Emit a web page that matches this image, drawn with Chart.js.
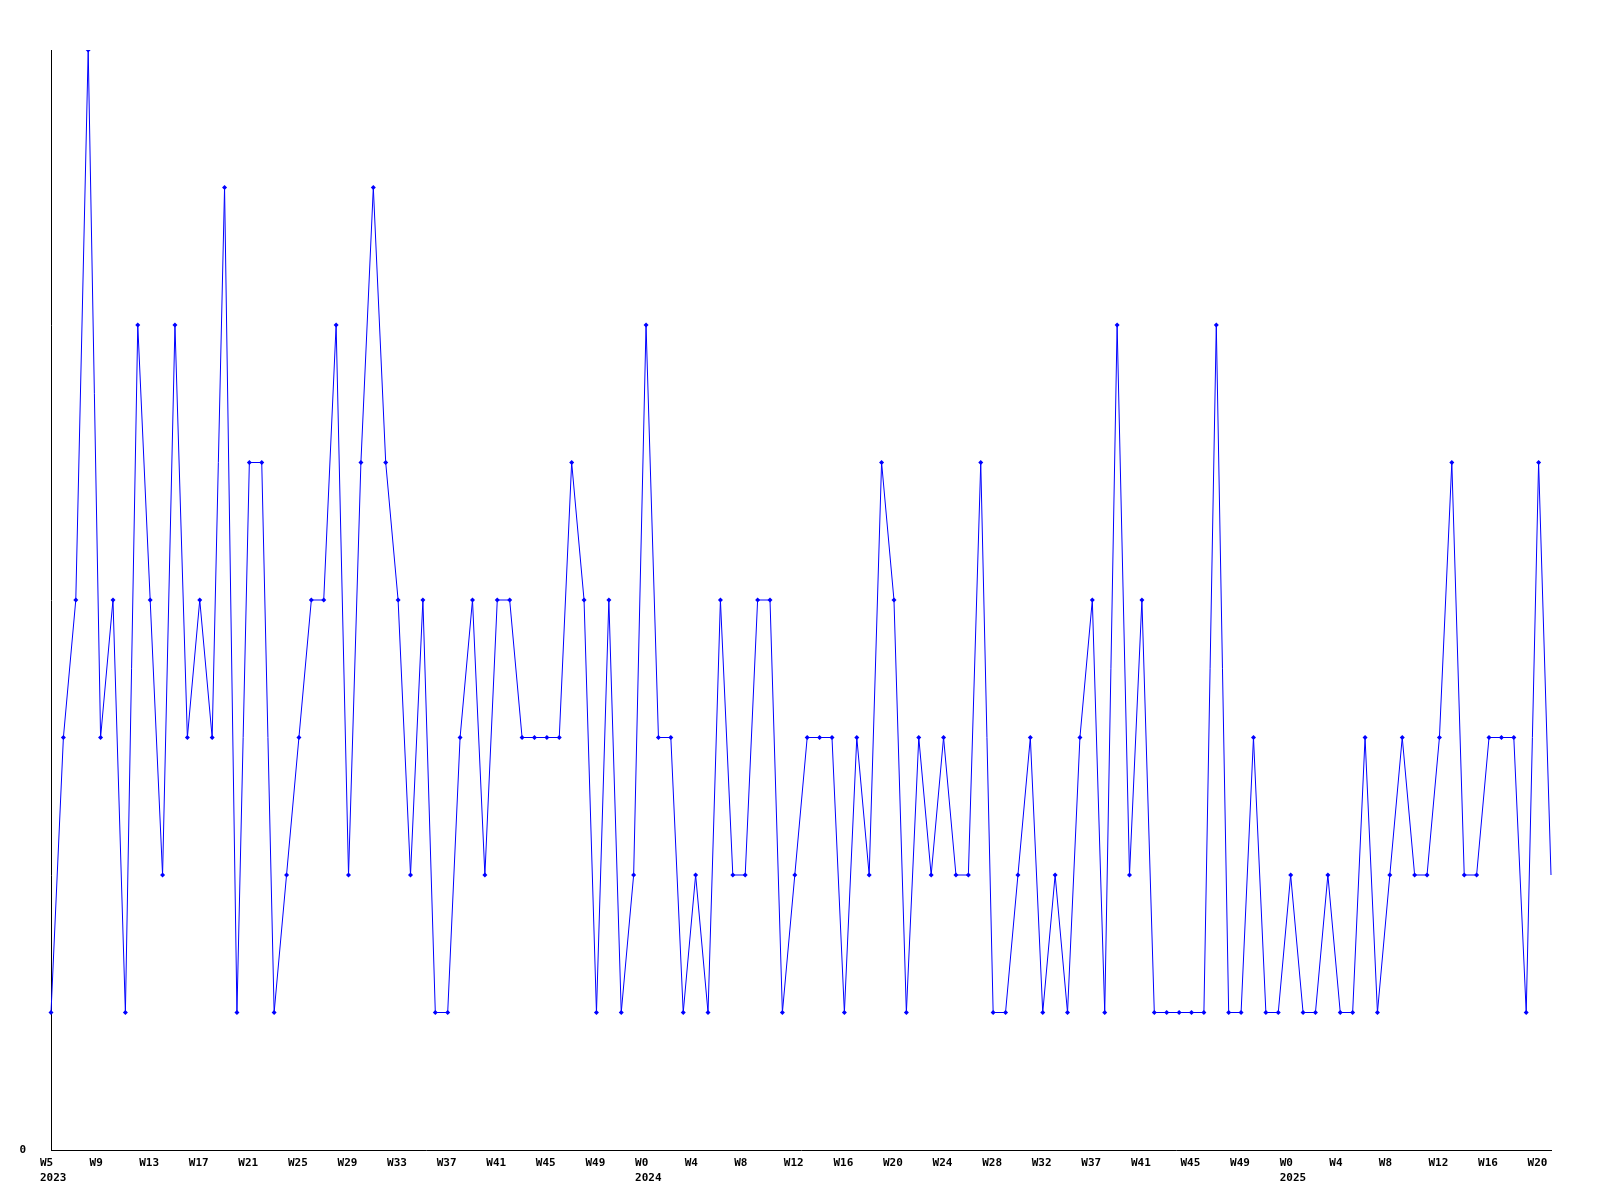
<!DOCTYPE html>
<html>
<head>
<meta charset="utf-8">
<script src="https://cdn.jsdelivr.net/npm/chart.js@4.4.0/dist/chart.umd.min.js"></script>
<style>
html,body{margin:0;padding:0;background:#fff;}
#wrap{width:1600px;height:1200px;}
</style>
</head>
<body>
<div id="wrap"><canvas id="c" width="1600" height="1200"></canvas></div>
<script>
const weeks = [
"W5","W6","W7","W8","W9","W10","W11","W12","W13","W14","W15","W16","W17","W18","W19","W20",
"W21","W22","W23","W24","W25","W26","W27","W28","W29","W30","W31","W32","W33","W34","W35","W36",
"W37","W38","W39","W40","W41","W42","W43","W44","W45","W46","W47","W48","W49","W50","W51","W52",
"W0","W1","W2","W3","W4","W5","W6","W7","W8","W9","W10","W11","W12","W13","W14","W15",
"W16","W17","W18","W19","W20","W21","W22","W23","W24","W25","W26","W27","W28","W29","W30","W31",
"W32","W33","W34","W35","W37","W38","W39","W40","W41","W42","W43","W44","W45","W46","W47","W48",
"W49","W50","W51","W52",
"W0","W1","W2","W3","W4","W5","W6","W7","W8","W9","W10","W11","W12","W13","W14","W15",
"W16","W17","W18","W19","W20","W21"
];
const yearStarts = [0, 48, 100];
const yearNames = ["2023", "2024", "2025"];
const values = [
1,3,4,8,3,4,1,6,4,2,6,3,4,3,7,1,5,5,1,2,3,4,4,6,2,5,7,5,4,2,4,1,1,3,4,2,4,4,3,3,
3,3,5,4,1,4,1,2,6,3,3,1,2,1,4,2,2,4,4,1,2,3,3,3,1,3,2,5,4,1,3,2,3,2,2,5,1,1,2,3,
1,2,1,3,4,1,6,2,4,1,1,1,1,1,6,1,1,3,1,1,2,1,1,2,1,1,3,1,2,3,2,2,3,5,2,2,3,3,3,1,
5,2
];
const yMin = 0, yMax = 8;
const labelEvery = 4;

const tickFont = {family: "'DejaVu Sans Mono', monospace", size: 11, weight: 'bold', lineHeight: '15px'};

new Chart(document.getElementById('c'), {
  type: 'line',
  data: {
    labels: weeks,
    datasets: [{
      data: values,
      borderColor: '#0000ff',
      backgroundColor: '#0000ff',
      borderWidth: 1,
      tension: 0,
      fill: false,
      pointStyle: 'rectRot',
      pointRadius: (ctx) => ctx.dataIndex === values.length - 1 ? 0 : 2.5,
      pointBorderWidth: 0,
      pointBackgroundColor: '#0000ff'
    }]
  },
  options: {
    responsive: false,
    animation: false,
    events: [],
    layout: {padding: {top: 50, right: 49, left: 0, bottom: 0}},
    plugins: {legend: {display: false}, tooltip: {enabled: false}, title: {display: false}},
    scales: {
      x: {
        type: 'category',
        offset: false,
        grid: {display: false, drawTicks: false},
        border: {display: true, color: '#000', width: 1},
        afterFit: (s) => { s.height = 50; },
        ticks: {
          autoSkip: false,
          maxRotation: 0,
          minRotation: 0,
          align: 'start',
          labelOffset: -11,
          padding: 6,
          color: '#000',
          font: tickFont,
          callback: function(value, index) {
            if (index % labelEvery !== 0) return '';
            const yi = yearStarts.indexOf(index);
            return yi >= 0 ? [weeks[index], yearNames[yi]] : weeks[index];
          }
        }
      },
      y: {
        min: yMin,
        max: yMax,
        grid: {display: false, drawTicks: false},
        border: {display: true, color: '#000', width: 1},
        afterFit: (s) => { s.width = 51; },
        afterBuildTicks: (s) => { s.ticks = [{value: 0}]; },
        ticks: {
          padding: 25,
          color: '#000',
          font: tickFont,
          callback: (v) => String(v)
        }
      }
    }
  }
});
</script>
</body>
</html>
